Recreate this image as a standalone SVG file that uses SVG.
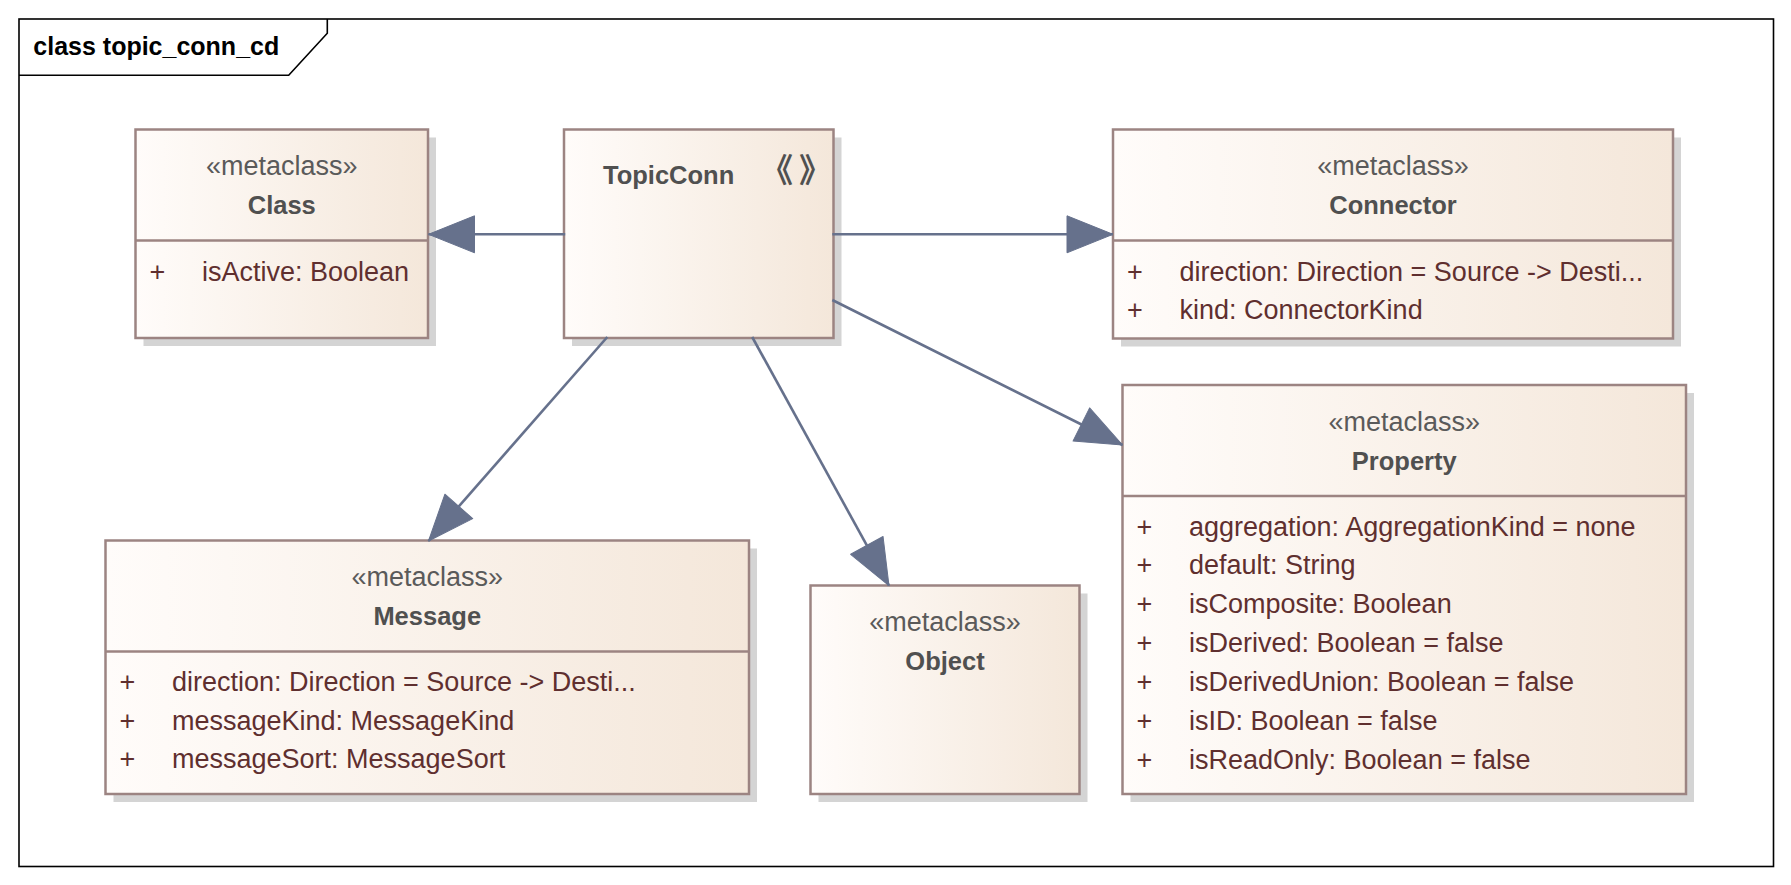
<svg xmlns="http://www.w3.org/2000/svg" width="1791" height="885" viewBox="0 0 1791 885">
<defs>
<linearGradient id="fillGrad" x1="0" y1="0" x2="1" y2="0">
<stop offset="0" stop-color="#fffcfa"/>
<stop offset="1" stop-color="#f4e7da"/>
</linearGradient>
<marker id="arrow" markerUnits="userSpaceOnUse" markerWidth="48" markerHeight="40" viewBox="0 0 48 40" refX="46" refY="18.5" orient="auto" overflow="visible">
<path d="M0,0 L46,18.5 L0,37 Z" fill="#66718c" stroke="#66718c" stroke-width="1" stroke-linejoin="round"/>
</marker>
<style>
.shadow{fill:#d4d4d4;stroke:none}
.box{fill:url(#fillGrad);stroke:#9c8482;stroke-width:2.5}
.div{stroke:#9c8482;stroke-width:2.5}
text{font-family:"Liberation Sans",Arial,sans-serif}
.st{font-size:27px;fill:#5a5a5a;text-anchor:middle}
.nm{font-size:25.5px;font-weight:bold;fill:#505050;text-anchor:middle}
.at{font-size:27px;fill:#5f2f2f}
.pl{font-size:27px;fill:#5f2f2f;text-anchor:middle}
.conn{stroke:#66718c;stroke-width:2.6;fill:none;marker-end:url(#arrow)}
</style>
</defs>
<rect x="0" y="0" width="1791" height="885" fill="#ffffff"/>
<g id="frame">
<rect x="19" y="19" width="1754.5" height="847.5" fill="none" stroke="#000000" stroke-width="1.6"/>
<path d="M19,75.3 L288.7,75.3 L327.3,33.3 L327.3,19" fill="none" stroke="#000000" stroke-width="1.6"/>
<text x="33.3" y="55" font-size="25px" font-weight="bold" fill="#000000">class topic_conn_cd</text>
</g>
<g id="node-class">
<rect class="shadow" x="143.5" y="137.5" width="292.5" height="208.5"/>
<rect class="box" x="135.5" y="129.5" width="292.5" height="208.5"/>
<line class="div" x1="135.5" y1="240.5" x2="428" y2="240.5"/>
<text class="st" x="281.75" y="175">«metaclass»</text>
<text class="nm" x="281.75" y="213.5">Class</text>
<text class="pl" x="157.5" y="281">+</text>
<text class="at" x="202" y="281">isActive: Boolean</text>
</g>
<g id="node-topicconn">
<rect class="shadow" x="572" y="137.5" width="269.5" height="208.5"/>
<rect class="box" x="564" y="129.5" width="269.5" height="208.5"/>
<text x="603" y="184" font-size="25.5px" font-weight="bold" fill="#505050">TopicConn</text>
<text x="799" y="182" font-size="33px" font-weight="bold" fill="#505050" text-anchor="middle" letter-spacing="6" style="font-family:'Noto Sans CJK SC','Noto Sans CJK JP',sans-serif">《》</text>
</g>
<g id="node-connector">
<rect class="shadow" x="1121" y="137.5" width="560" height="209"/>
<rect class="box" x="1113" y="129.5" width="560" height="209"/>
<line class="div" x1="1113" y1="240.5" x2="1673" y2="240.5"/>
<text class="st" x="1393" y="174.5">«metaclass»</text>
<text class="nm" x="1393" y="214">Connector</text>
<text class="pl" x="1135" y="280.5">+</text>
<text class="at" x="1179.5" y="280.5">direction: Direction = Source -&gt; Desti...</text>
<text class="pl" x="1135" y="319">+</text>
<text class="at" x="1179.5" y="319">kind: ConnectorKind</text>
</g>
<g id="node-property">
<rect class="shadow" x="1130.5" y="393" width="563.5" height="409"/>
<rect class="box" x="1122.5" y="385" width="563.5" height="409"/>
<line class="div" x1="1122.5" y1="496" x2="1686" y2="496"/>
<text class="st" x="1404.25" y="431">«metaclass»</text>
<text class="nm" x="1404.25" y="470">Property</text>
<text class="pl" x="1144.5" y="535.5">+</text>
<text class="at" x="1189" y="535.5">aggregation: AggregationKind = none</text>
<text class="pl" x="1144.5" y="574.4">+</text>
<text class="at" x="1189" y="574.4">default: String</text>
<text class="pl" x="1144.5" y="613.3">+</text>
<text class="at" x="1189" y="613.3">isComposite: Boolean</text>
<text class="pl" x="1144.5" y="652.2">+</text>
<text class="at" x="1189" y="652.2">isDerived: Boolean = false</text>
<text class="pl" x="1144.5" y="691.1">+</text>
<text class="at" x="1189" y="691.1">isDerivedUnion: Boolean = false</text>
<text class="pl" x="1144.5" y="730">+</text>
<text class="at" x="1189" y="730">isID: Boolean = false</text>
<text class="pl" x="1144.5" y="768.9">+</text>
<text class="at" x="1189" y="768.9">isReadOnly: Boolean = false</text>
</g>
<g id="node-message">
<rect class="shadow" x="113.5" y="548.5" width="643.5" height="253.5"/>
<rect class="box" x="105.5" y="540.5" width="643.5" height="253.5"/>
<line class="div" x1="105.5" y1="651.5" x2="749" y2="651.5"/>
<text class="st" x="427.25" y="585.5">«metaclass»</text>
<text class="nm" x="427.25" y="625">Message</text>
<text class="pl" x="127.5" y="690.7">+</text>
<text class="at" x="172" y="690.7">direction: Direction = Source -&gt; Desti...</text>
<text class="pl" x="127.5" y="729.5">+</text>
<text class="at" x="172" y="729.5">messageKind: MessageKind</text>
<text class="pl" x="127.5" y="768.3">+</text>
<text class="at" x="172" y="768.3">messageSort: MessageSort</text>
</g>
<g id="node-object">
<rect class="shadow" x="818.5" y="593.5" width="269" height="208.5"/>
<rect class="box" x="810.5" y="585.5" width="269" height="208.5"/>
<text class="st" x="945" y="631">«metaclass»</text>
<text class="nm" x="945" y="670">Object</text>
</g>
<g id="connectors">
<line class="conn" x1="565.2" y1="234.3" x2="428.5" y2="234.3"/>
<line class="conn" x1="832.3" y1="234.3" x2="1113" y2="234.3"/>
<line class="conn" x1="832.3" y1="300" x2="1122.5" y2="445"/>
<line class="conn" x1="607.3" y1="337" x2="428.5" y2="541"/>
<line class="conn" x1="752.2" y1="337" x2="889" y2="585.7"/>
</g>
</svg>
